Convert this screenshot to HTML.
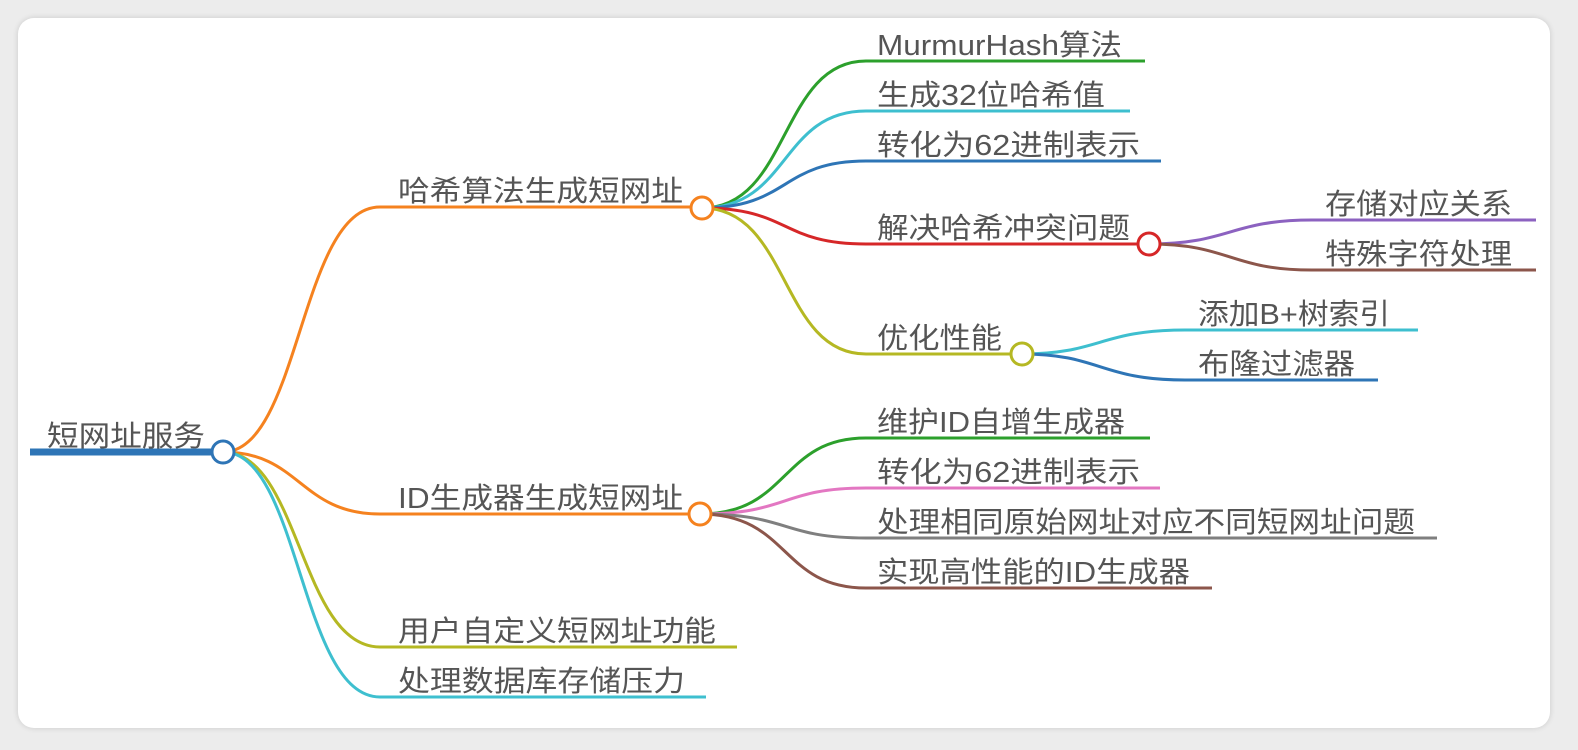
<!DOCTYPE html>
<html><head><meta charset="utf-8"><style>
html,body{margin:0;padding:0;background:#ececec;}
.card{position:absolute;left:18px;top:18px;width:1532px;height:710px;background:#fff;border-radius:16px;box-shadow:0 0 6px rgba(0,0,0,0.15);}
svg{position:absolute;left:0;top:0;}
text{font-family:"Liberation Sans","Noto Sans CJK SC",sans-serif;font-size:29px;fill:#555;}
path{fill:none;stroke-width:3;}
</style></head><body>
<div class="card"></div>
<svg width="1578" height="750" viewBox="0 0 1578 750">
<path d="M223,452 C300,452 300,207 380,207 L690,207" stroke="#f5821f"/>
<path d="M223,452 C300,452 300,514 380,514 L688,514" stroke="#f5821f"/>
<path d="M223,452 C300,452 300,647 380,647 L737,647" stroke="#b5b823"/>
<path d="M223,452 C300,452 300,697 380,697 L706,697" stroke="#3ebfcf"/>
<path d="M702,208 C790,208 780,61 866,61 L1145,61" stroke="#2ca02c"/>
<path d="M702,208 C790,208 780,111 866,111 L1130,111" stroke="#3ebfcf"/>
<path d="M702,208 C790,208 780,161 866,161 L1161,161" stroke="#2e75b6"/>
<path d="M702,208 C790,208 780,244 866,244 L1137,244" stroke="#d62728"/>
<path d="M702,208 C790,208 780,354 866,354 L1010,354" stroke="#b5b823"/>
<path d="M1149,244 C1230,244 1230,220 1312,220 L1536,220" stroke="#8c62c0"/>
<path d="M1149,244 C1230,244 1230,270 1312,270 L1536,270" stroke="#8c564b"/>
<path d="M1022,354 C1100,354 1100,330 1185,330 L1418,330" stroke="#3ebfcf"/>
<path d="M1022,354 C1100,354 1100,380 1185,380 L1378,380" stroke="#2e75b6"/>
<path d="M700,514 C790,514 780,438 866,438 L1150,438" stroke="#2ca02c"/>
<path d="M700,514 C790,514 780,488 866,488 L1160,488" stroke="#e377c2"/>
<path d="M700,514 C790,514 780,538 866,538 L1437,538" stroke="#7f7f7f"/>
<path d="M700,514 C790,514 780,588 866,588 L1212,588" stroke="#8c564b"/>
<line x1="30" y1="452" x2="222" y2="452" stroke="#2e75b6" stroke-width="7"/>
<circle cx="223" cy="452" r="11" fill="#fff" stroke="#2e75b6" stroke-width="3"/>
<circle cx="702" cy="208" r="11" fill="#fff" stroke="#f5821f" stroke-width="3"/>
<circle cx="700" cy="514" r="11" fill="#fff" stroke="#f5821f" stroke-width="3"/>
<circle cx="1149" cy="244" r="11" fill="#fff" stroke="#d62728" stroke-width="3"/>
<circle cx="1022" cy="354" r="11" fill="#fff" stroke="#b5b823" stroke-width="3"/>
<text x="47" y="446" textLength="158" lengthAdjust="spacingAndGlyphs">短网址服务</text>
<text x="398" y="201" textLength="285" lengthAdjust="spacingAndGlyphs">哈希算法生成短网址</text>
<text x="398" y="508" textLength="285" lengthAdjust="spacingAndGlyphs">ID生成器生成短网址</text>
<text x="398" y="641" textLength="318" lengthAdjust="spacingAndGlyphs">用户自定义短网址功能</text>
<text x="398" y="691" textLength="287" lengthAdjust="spacingAndGlyphs">处理数据库存储压力</text>
<text x="877" y="55" textLength="245" lengthAdjust="spacingAndGlyphs">MurmurHash算法</text>
<text x="877" y="105" textLength="228" lengthAdjust="spacingAndGlyphs">生成32位哈希值</text>
<text x="877" y="155" textLength="263" lengthAdjust="spacingAndGlyphs">转化为62进制表示</text>
<text x="877" y="238" textLength="253" lengthAdjust="spacingAndGlyphs">解决哈希冲突问题</text>
<text x="877" y="348" textLength="125" lengthAdjust="spacingAndGlyphs">优化性能</text>
<text x="1325" y="214" textLength="187" lengthAdjust="spacingAndGlyphs">存储对应关系</text>
<text x="1325" y="264" textLength="187" lengthAdjust="spacingAndGlyphs">特殊字符处理</text>
<text x="1198" y="324" textLength="192" lengthAdjust="spacingAndGlyphs">添加B+树索引</text>
<text x="1198" y="374" textLength="157" lengthAdjust="spacingAndGlyphs">布隆过滤器</text>
<text x="877" y="432" textLength="248" lengthAdjust="spacingAndGlyphs">维护ID自增生成器</text>
<text x="877" y="482" textLength="263" lengthAdjust="spacingAndGlyphs">转化为62进制表示</text>
<text x="877" y="532" textLength="538" lengthAdjust="spacingAndGlyphs">处理相同原始网址对应不同短网址问题</text>
<text x="877" y="582" textLength="313" lengthAdjust="spacingAndGlyphs">实现高性能的ID生成器</text>
</svg>
</body></html>
